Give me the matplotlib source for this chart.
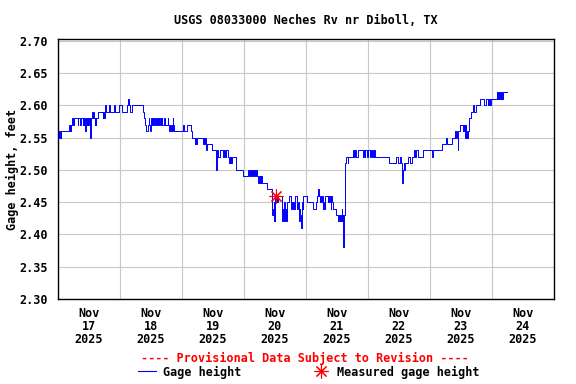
import matplotlib
matplotlib.use("Agg")
import matplotlib.pyplot as plt
from matplotlib.lines import Line2D
import pandas as pd

# gage height (ft), step breakpoints as (hour of day, value) per day
nov17 = [(0.0, 2.55), (0.25, 2.56), (0.5, 2.55), (0.75, 2.56), (1.0, 2.55), (1.25, 2.56),
         (4.3, 2.57), (4.55, 2.56), (4.8, 2.57), (5.05, 2.56), (5.2, 2.57), (5.4, 2.58),
         (5.9, 2.57), (6.15, 2.58), (7.6, 2.57), (7.85, 2.58), (8.5, 2.57), (8.75, 2.58),
         (9.6, 2.57), (9.85, 2.58), (10.0, 2.57), (10.25, 2.58), (10.6, 2.56), (10.85, 2.58),
         (11.1, 2.57), (11.35, 2.58), (11.5, 2.57), (11.75, 2.58), (12.0, 2.57), (12.25, 2.58),
         (12.5, 2.55), (12.75, 2.58), (13.2, 2.59), (13.45, 2.58), (13.6, 2.59), (13.85, 2.58),
         (14.2, 2.57), (14.45, 2.58), (14.6, 2.57), (14.85, 2.58), (15.4, 2.59),
         (17.3, 2.58), (17.55, 2.59), (17.9, 2.58), (18.1, 2.59), (18.3, 2.60), (18.55, 2.59),
         (19.9, 2.60), (20.2, 2.59), (21.8, 2.60), (22.2, 2.59), (23.7, 2.60)]
nov18 = [(0.8, 2.59), (2.6, 2.60), (3.2, 2.61), (3.45, 2.60), (3.9, 2.59), (4.6, 2.60),
         (9.0, 2.59), (9.4, 2.58), (9.8, 2.57), (10.1, 2.56), (10.7, 2.57),
         (11.1, 2.58), (11.35, 2.57), (11.6, 2.56), (11.85, 2.57), (12.0, 2.58), (12.25, 2.57),
         (12.45, 2.58), (12.7, 2.57), (13.3, 2.58), (13.55, 2.57), (13.9, 2.58), (14.15, 2.57),
         (14.6, 2.58), (14.85, 2.57), (15.2, 2.58), (15.45, 2.57), (15.7, 2.58), (15.95, 2.57),
         (16.1, 2.58), (16.35, 2.57), (17.2, 2.58), (17.45, 2.57), (18.5, 2.58), (18.75, 2.57),
         (19.1, 2.56), (19.35, 2.57), (19.7, 2.56), (19.95, 2.57), (20.15, 2.56), (20.4, 2.58),
         (20.65, 2.57), (20.9, 2.56)]
nov19 = [(0.2, 2.57), (0.8, 2.56), (2.0, 2.57), (3.4, 2.56), (3.8, 2.55), (5.0, 2.54),
         (5.25, 2.55), (5.5, 2.54), (5.7, 2.55), (8.2, 2.54), (8.45, 2.55), (8.7, 2.54),
         (8.95, 2.55), (9.3, 2.53), (9.8, 2.54), (11.5, 2.53), (13.2, 2.50), (13.45, 2.53),
         (13.9, 2.52), (14.7, 2.53), (16.0, 2.52), (16.3, 2.53), (16.6, 2.52), (16.85, 2.53),
         (17.9, 2.52), (18.15, 2.51), (18.4, 2.52), (18.65, 2.51), (18.9, 2.52), (19.1, 2.51),
         (19.2, 2.52), (20.9, 2.50), (23.7, 2.49)]
nov20 = [(1.7, 2.50), (1.95, 2.49), (2.3, 2.50), (2.6, 2.49), (2.9, 2.50), (3.15, 2.49),
         (3.5, 2.50), (3.75, 2.49), (4.0, 2.50), (4.25, 2.49), (4.6, 2.50), (4.85, 2.49),
         (5.5, 2.48), (5.75, 2.49), (6.0, 2.48), (6.25, 2.49), (6.5, 2.48), (6.75, 2.49),
         (6.8, 2.48), (8.8, 2.47), (10.7, 2.45), (10.95, 2.43), (11.2, 2.44), (11.45, 2.42),
         (11.7, 2.45), (11.95, 2.42), (12.1, 2.46), (12.35, 2.45), (12.6, 2.46), (12.85, 2.45),
         (13.1, 2.46), (14.6, 2.44), (14.85, 2.42), (15.1, 2.44), (15.35, 2.42), (15.6, 2.45),
         (15.85, 2.42), (16.1, 2.44), (16.35, 2.42), (16.6, 2.45), (17.5, 2.46), (18.0, 2.45),
         (18.3, 2.44), (18.55, 2.45), (18.8, 2.44), (19.05, 2.45), (19.3, 2.44), (19.7, 2.46),
         (20.4, 2.45), (20.65, 2.44), (20.9, 2.45), (21.15, 2.44), (21.3, 2.42), (21.55, 2.44),
         (21.8, 2.43), (22.1, 2.41), (22.35, 2.44), (22.6, 2.45), (22.85, 2.44), (23.0, 2.46)]
nov21 = [(0.3, 2.45), (2.8, 2.44), (3.7, 2.45), (4.3, 2.46), (4.75, 2.47), (5.0, 2.46),
         (5.25, 2.45), (5.5, 2.46), (5.75, 2.45), (6.1, 2.46), (6.7, 2.44), (6.95, 2.45),
         (7.2, 2.44), (7.4, 2.46), (8.4, 2.45), (8.65, 2.46), (8.9, 2.45), (9.3, 2.46),
         (9.55, 2.44), (9.8, 2.46), (10.05, 2.45), (10.3, 2.44), (11.5, 2.43), (12.5, 2.42),
         (12.75, 2.43), (13.0, 2.42), (13.25, 2.43), (13.5, 2.42), (13.8, 2.44), (14.0, 2.42),
         (14.2, 2.43), (14.4, 2.38), (14.65, 2.43), (15.0, 2.49), (15.25, 2.51), (15.5, 2.52),
         (16.1, 2.51), (16.3, 2.52), (18.3, 2.53), (18.6, 2.52), (18.8, 2.53), (19.2, 2.52),
         (20.2, 2.53), (22.2, 2.52), (22.45, 2.53), (22.7, 2.52), (22.8, 2.53), (23.5, 2.52)]
nov22 = [(0.1, 2.53), (0.8, 2.52), (1.05, 2.53), (1.7, 2.52), (1.95, 2.53), (2.2, 2.52),
         (2.45, 2.53), (2.7, 2.52), (8.2, 2.51), (10.8, 2.52), (11.5, 2.51), (12.4, 2.52),
         (12.7, 2.51), (13.3, 2.48), (13.5, 2.50), (13.75, 2.51), (14.0, 2.50), (14.3, 2.51),
         (15.4, 2.52), (16.3, 2.51), (16.9, 2.52), (17.9, 2.53), (18.15, 2.52), (18.4, 2.53),
         (19.5, 2.52), (21.4, 2.53)]
nov23 = [(0.7, 2.52), (1.3, 2.53), (4.5, 2.54), (6.2, 2.55), (6.45, 2.54), (6.6, 2.55),
         (6.75, 2.54), (8.4, 2.55), (9.6, 2.56), (9.85, 2.55), (10.1, 2.56), (10.35, 2.55),
         (10.7, 2.53), (10.95, 2.56), (11.6, 2.57), (12.6, 2.56), (12.85, 2.57), (13.1, 2.56),
         (13.35, 2.57), (13.5, 2.55), (13.75, 2.57), (14.0, 2.55), (14.25, 2.56), (14.5, 2.55),
         (14.8, 2.56), (15.0, 2.57), (15.2, 2.58), (15.9, 2.59), (16.5, 2.60), (17.1, 2.59),
         (17.7, 2.60), (19.4, 2.61), (21.0, 2.60), (21.6, 2.61), (22.3, 2.60), (22.55, 2.61),
         (22.8, 2.60), (23.05, 2.61), (23.3, 2.60), (23.6, 2.61)]
nov24 = [(1.8, 2.62), (2.05, 2.61), (2.3, 2.62), (2.55, 2.61), (2.8, 2.62), (3.05, 2.61),
         (3.3, 2.62), (3.55, 2.61), (3.7, 2.62), (4.0, 2.61), (4.25, 2.62), (5.75, 2.62)]

meas_time = ["2025-11-20 12:24"]
meas_gage = [2.46]

days = pd.date_range("2025-11-17", "2025-11-25", freq="D")
y_ticks = [2.30, 2.35, 2.40, 2.45, 2.50, 2.55, 2.60, 2.65, 2.70]

times, gage = [], []
for day, pts in zip(days, [nov17, nov18, nov19, nov20, nov21, nov22, nov23, nov24]):
    for h, v in pts:
        times.append(day + pd.Timedelta(hours=h))
        gage.append(v)

font = dict(family="DejaVu Sans Mono", weight="bold", size=8.5)

fig = plt.figure(figsize=(5.76, 3.84), dpi=100)
ax = fig.add_axes([58 / 576, 85 / 384, 496 / 576, 260 / 384])

ax.plot(times, gage, color="#0000ff", lw=0.7, drawstyle="steps-post", zorder=3)
ax.plot(pd.to_datetime(meas_time), meas_gage, ls="none", marker=(8, 2, 0),
        color="#ff0000", ms=10, mew=0.8, zorder=4)

ax.set_xlim(days[0], days[-1])
ax.set_ylim(2.30, 2.7025)

ax.set_yticks(y_ticks)
ax.set_yticklabels(["%.2f" % v for v in y_ticks], fontdict=font)
noons = days[:-1] + pd.Timedelta(hours=12)
ax.set_xticks(noons)
ax.set_xticklabels([d.strftime("%b\n%d\n%Y") for d in noons], fontdict=font,
                   linespacing=1.0)
ax.set_xticks(days, minor=True)
ax.tick_params(which="both", length=0)
ax.tick_params(axis="y", pad=7)
ax.tick_params(axis="x", pad=6)

ax.grid(False)
ax.grid(True, which="minor", axis="x", color="#c8c8c8", lw=0.8)
ax.grid(True, which="major", axis="y", color="#c8c8c8", lw=0.8)
for s in ax.spines.values():
    s.set_linewidth(1.0)
    s.set_color("black")

fig.text(306 / 576, 1 - 20 / 384, "USGS 08033000 Neches Rv nr Diboll, TX",
         ha="center", va="center", **font)
fig.text(12 / 576, 1 - 169 / 384, "Gage height, feet", rotation=90,
         ha="center", va="center", **font)
fig.text(305 / 576, 1 - 358 / 384, "---- Provisional Data Subject to Revision ----",
         ha="center", va="center", color="#ff0000", **font)

handles = [Line2D([], [], color="#0000ff", lw=0.8),
           Line2D([], [], ls="none", marker=(8, 2, 0), color="#ff0000", ms=10, mew=0.8)]
fig.legend(handles, ["Gage height", "Measured gage height"], loc="center",
           bbox_to_anchor=(309 / 576, 1 - 372 / 384), ncol=2, frameon=False,
           prop=dict(family="DejaVu Sans Mono", weight="bold", size=8.5),
           handlelength=1.5, handletextpad=0.6, columnspacing=6.0,
           borderpad=0, borderaxespad=0)

fig.savefig("out.png", dpi=100)
